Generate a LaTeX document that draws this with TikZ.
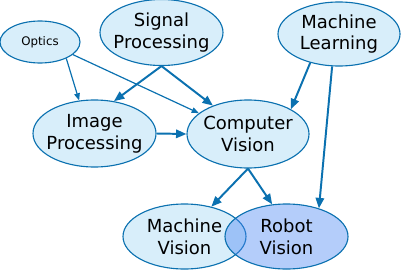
\documentclass[tikz,border=0pt]{standalone}
\usepackage{fontspec}
\setmainfont{DejaVu Sans}
\usepackage{xcolor}
\usetikzlibrary{positioning,arrows.meta,shapes.geometric,calc}
\definecolor{edgeblue}{RGB}{11,113,176}
\definecolor{lightfill}{RGB}{216,238,250}
\definecolor{robotfill}{RGB}{74,133,243}

\begin{document}
\begin{tikzpicture}[
    topic/.style={ellipse, draw=edgeblue, line width=0.8pt, fill=lightfill,
                  inner xsep=-8pt, inner ysep=-4pt, minimum width=3.075cm, minimum height=1.65cm,
                  align=center, font=\fontsize{12.8}{15.5}\selectfont},
    arr/.style={-{Triangle[length=2.6mm, width=2.1mm]}, line width=1.4pt, draw=edgeblue},
    thinarr/.style={-{Triangle[length=1.8mm, width=1.4mm]}, line width=0.85pt, draw=edgeblue}]
  \useasboundingbox (0,0) rectangle (10.05,6.775);
  \node[topic, minimum width=2.0cm, minimum height=1.05cm,
        font=\fontsize{8.4}{10}\selectfont] (optics) at (1.0,5.725) {Optics};
  \node[topic] (signal) at (4.0375,5.9625) {Signal\\Processing};
  \node[topic, minimum width=3.05cm, minimum height=1.6cm] (learning) at (8.475,5.925) {Machine\\Learning};
  \node[topic, minimum height=1.675cm] (image) at (2.3625,3.4375) {Image\\Processing};
  \node[topic, minimum width=3.05cm, minimum height=1.7cm] (vision) at (6.2,3.425) {Computer\\Vision};
  \node[topic, minimum height=1.625cm] (machine) at (4.6125,0.8625) {Machine\\Vision};
  \node[topic, minimum height=1.625cm, fill=robotfill, fill opacity=0.41,
        text opacity=1] (robot) at (7.1625,0.8625) {Robot\\Vision};
  \draw[thinarr] (optics.328) -- (image.115);
  \draw[thinarr] (optics.339) -- (vision.157);
  \draw[arr] (signal.south) -- (image.59);
  \draw[arr] (signal.south) -- (vision.141);
  \draw[arr] (learning.225) -- (vision.30);
  \draw[arr] (learning.258) -- (robot.41);
  \draw[arr] (image.east) -- (vision.west);
  \draw[arr] (vision.south) -- (machine.48);
  \draw[arr] (vision.south) -- (robot.114);
\end{tikzpicture}
\end{document}
